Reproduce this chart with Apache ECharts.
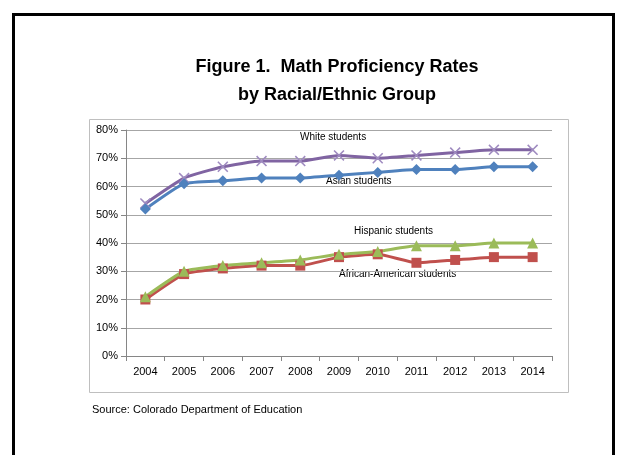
<!DOCTYPE html>
<html><head><meta charset="utf-8">
<script src="https://cdn.jsdelivr.net/npm/echarts@6/dist/echarts.min.js"></script>
<style>html,body{margin:0;padding:0;background:#fff}#c{width:617px;height:455px}</style>
</head><body><div id="c"></div>
<script>
const years = ['2004','2005','2006','2007','2008','2009','2010','2011','2012','2013','2014'];
const white = [54,63,67,69,69,71,70,71,72,73,73];
const asian = [52,61,62,63,63,64,65,66,66,67,67];
const hispanic = [21,30,32,33,34,36,37,39,39,40,40];
const african = [20,29,31,32,32,35,36,33,34,35,35];
const seriesNames = ['White students','Asian students','Hispanic students','African-American students'];

const chart = echarts.init(document.getElementById('c'));
const X = 'path://M0,1L1,0L5,4L9,0L10,1L6,5L10,9L9,10L5,6L1,10L0,9L4,5Z';
function ser(name, data, color, symbol, size, mcolor){
  return {name, type:'line', data, symbol, symbolSize:size, smooth:0.15,
    lineStyle:{color, width:3}, itemStyle:{color:mcolor||color}, z:3};
}
chart.setOption({
  animation:false,
  title:{text:'Figure 1.  Math Proficiency Rates\nby Racial/Ethnic Group', left:332, top:48, textAlign:'center',
    textStyle:{fontFamily:'Liberation Sans, Arial', fontWeight:'bold', fontSize:18, color:'#000', lineHeight:28}},
  grid:{left:126, right:65, top:130, bottom:99, containLabel:false},
  xAxis:{type:'category', data:years, boundaryGap:true,
    axisLine:{lineStyle:{color:'#868686'}}, axisTick:{show:true, interval:0, length:5, lineStyle:{color:'#868686'}},
    axisLabel:{color:'#000', fontFamily:'Liberation Sans, Arial', fontSize:11, margin:10}},
  yAxis:{type:'value', min:0, max:80, interval:10,
    axisLine:{show:true, lineStyle:{color:'#868686'}}, axisTick:{show:true, length:5, lineStyle:{color:'#868686'}},
    axisLabel:{formatter:'{value}%', color:'#000', fontFamily:'Liberation Sans, Arial', fontSize:11, margin:8},
    splitLine:{lineStyle:{color:'#a6a6a6', width:1}}},
  series:[
    ser(seriesNames[0], white, '#8064A2', X, 11, '#9f8bc0'),
    ser(seriesNames[1], asian, '#4F81BD', 'diamond', 11),
    ser(seriesNames[3], african, '#C0504D', 'rect', 10),
    ser(seriesNames[2], hispanic, '#9BBB59', 'triangle', 11)
  ],
  graphic:[
    {type:'rect', shape:{x:0,y:0,width:600,height:460}, left:11, top:12, style:{fill:'none', stroke:'#000', lineWidth:3}, silent:true},
    {type:'rect', shape:{x:0,y:0,width:479,height:273}, left:87, top:117, style:{fill:'none', stroke:'#bfbfbf', lineWidth:1}, silent:true},
    {type:'text', left:300, top:132, style:{text:seriesNames[0], fontFamily:'Liberation Sans, Arial', fontSize:10, fill:'#000'}},
    {type:'text', left:326, top:176, style:{text:seriesNames[1], fontFamily:'Liberation Sans, Arial', fontSize:10, fill:'#000'}},
    {type:'text', left:354, top:226, style:{text:seriesNames[2], fontFamily:'Liberation Sans, Arial', fontSize:10, fill:'#000'}},
    {type:'text', left:339, top:269, style:{text:seriesNames[3], fontFamily:'Liberation Sans, Arial', fontSize:10, fill:'#000'}},
    {type:'text', left:92, top:404, style:{text:'Source: Colorado Department of Education', fontFamily:'Liberation Sans, Arial', fontSize:11, fill:'#000'}}
  ]
});
</script></body></html>
